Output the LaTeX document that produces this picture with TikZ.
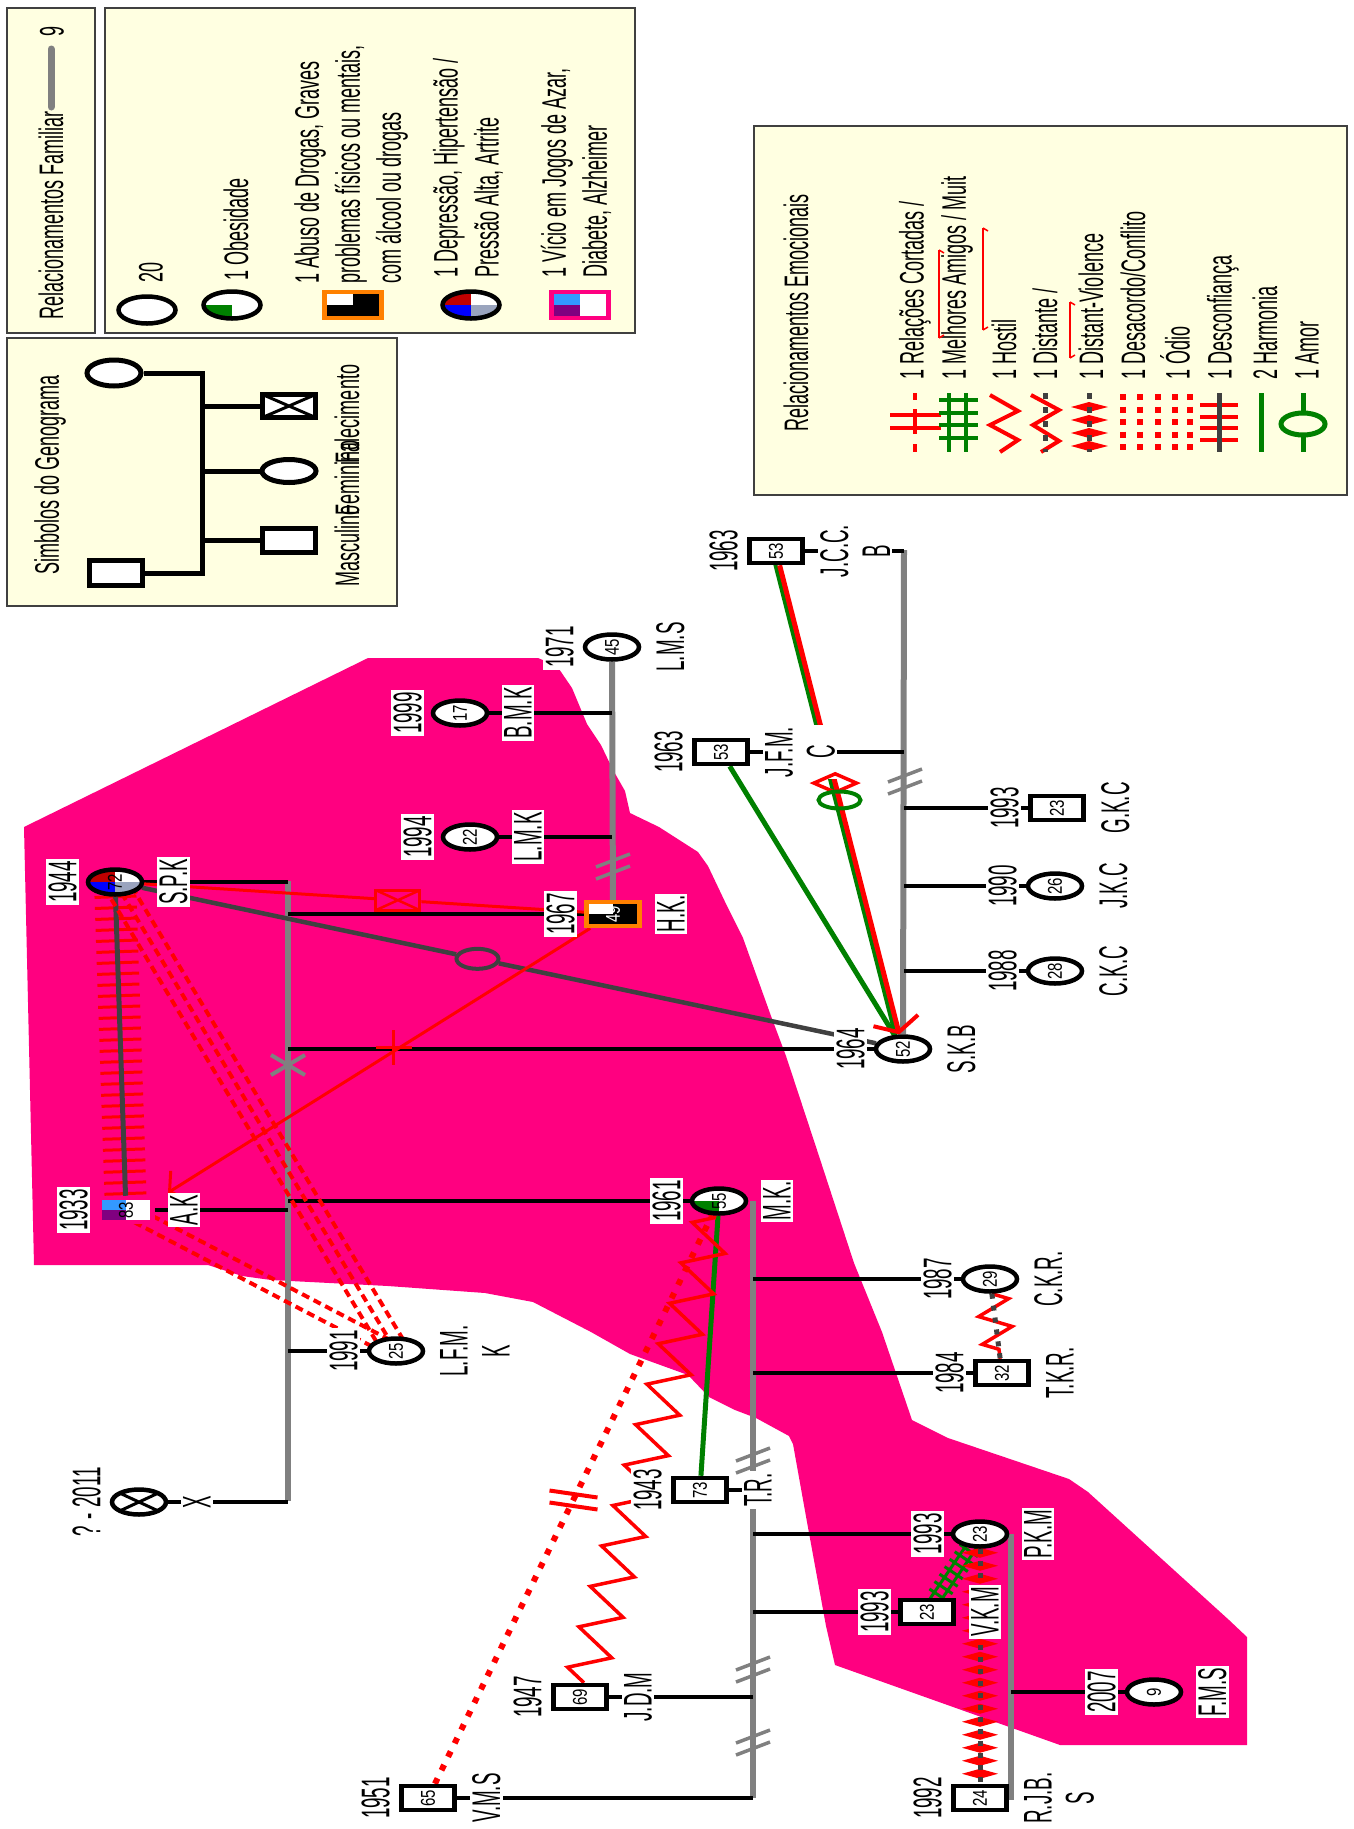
\documentclass[tikz,border=0pt]{standalone}
\usepackage{fontspec}
\setmainfont{Liberation Sans}[FakeStretch=0.47]
\newfontfamily\legfam{Liberation Sans}[FakeStretch=0.53]
\newfontfamily\agefam{Liberation Sans}[FakeStretch=0.75]
\usepackage{graphicx}
\usetikzlibrary{arrows.meta,calc,shapes.geometric,shapes.misc,decorations.pathmorphing,decorations.markings}
\definecolor{gpink}{HTML}{FF0080}
\definecolor{famgrey}{HTML}{808080}
\definecolor{relgrey}{HTML}{404040}
\definecolor{gred}{HTML}{FF0000}
\definecolor{ggreen}{HTML}{008000}
\definecolor{gorange}{HTML}{FF8000}
\definecolor{legfill}{HTML}{FFFFE1}
\definecolor{depred}{HTML}{C00000}
\definecolor{depblue}{HTML}{0000FF}
\definecolor{depgrey}{HTML}{9AA4BE}
\definecolor{gamblue}{HTML}{3399FF}
\definecolor{gampurple}{HTML}{800080}
\newcommand{\lblfont}{\fontsize{40}{42}\selectfont}
\newcommand{\legfont}{\legfam\fontsize{34}{41}\selectfont}
\newcommand{\agefont}{\agefam\fontsize{20}{20}\selectfont}
\pgfdeclarelayer{back}\pgfdeclarelayer{links}\pgfsetlayers{back,links,main}
\tikzset{
 fem/.style={ellipse,draw=black,line width=4.5pt,fill=white,minimum width=54pt,minimum height=25pt,inner sep=0pt},
 masc/.style={rectangle,draw=black,line width=4.5pt,fill=white,minimum width=53pt,minimum height=24pt,inner sep=0pt},
 quad/.style n args={4}{path picture={\fill[#1](path picture bounding box.center) rectangle (path picture bounding box.north west);\fill[#2](path picture bounding box.center) rectangle (path picture bounding box.north east);\fill[#3](path picture bounding box.center) rectangle (path picture bounding box.south west);\fill[#4](path picture bounding box.center) rectangle (path picture bounding box.south east);}},
 dead/.style={path picture={\draw[line width=3pt](path picture bounding box.north west)--(path picture bounding box.south east)(path picture bounding box.south west)--(path picture bounding box.north east);}},
 cutbox/.style={rectangle,draw=gred,line width=3pt,minimum width=44pt,minimum height=20pt,inner sep=0pt,path picture={\draw[gred,line width=2.5pt](path picture bounding box.north west)--(path picture bounding box.south east)(path picture bounding box.south west)--(path picture bounding box.north east);}},
 lbl/.style={rotate=90,fill=white,inner sep=2pt,font=\lblfont,align=center},
 legtxt/.style={rotate=90,inner sep=0pt,font=\legfont,align=left},
 legbox/.style={draw=black!75,line width=2pt,fill=legfill},
 legline/.style={draw=black,line width=5pt},
 fam/.style={draw=famgrey,line width=6pt},
 kid/.style={draw=black,line width=3.5pt},
 harmony/.style={draw=ggreen,line width=5pt},
 cutline/.style={draw=gred,line width=3pt},
 loveline/.style={draw=relgrey,line width=4.5pt},
 conflict/.style={draw=gred,line width=4pt,dash pattern=on 8pt off 5pt},
 cutoff/.style={draw=gred,line width=6pt,dash pattern=on 6pt off 9pt},
 hostile/.style={draw=gred,line width=3.5pt,decorate,decoration={zigzag,segment length=42pt,amplitude=20pt}},
 distrust/.style={draw=relgrey,line width=5pt,preaction={decorate,decoration={markings,mark=between positions 0 and 1 step 11pt with {\draw[gred,line width=3pt](0pt,-21pt)--(0pt,21pt);}}}},
 distant/.style={draw=relgrey,line width=5pt,dash pattern=on 5pt off 7pt,preaction={draw=gred,solid,line width=3.5pt,decorate,decoration={zigzag,segment length=28pt,amplitude=16pt}}},
 violence/.style={draw=relgrey,line width=5pt,dash pattern=on 5pt off 7pt,preaction={decorate,decoration={markings,mark=between positions 4pt and 1 step 13pt with {\fill[gred](-5pt,0pt)--(0pt,18pt)--(5pt,0pt)--(0pt,-18pt)--cycle;}}}},
 brkmark/.pic={\draw[famgrey,line width=3.5pt](-17,1)--(17,-12)(-17,13)--(17,0);},
 cutmark/.pic={\draw[gred,line width=4pt](-24,-9)--(24,-2)(-24,3)--(24,10);}
}
\begin{document}
\begin{tikzpicture}[x=1pt,y=-1pt]
\useasboundingbox (0,0) rectangle (1354,1829);
\begin{pgfonlayer}{back}
\fill[white](0,0) rectangle (1354,1829);
\fill[gpink](24,827)--(368,658)--(538,658)--(557,666)--(572,688)--(587,724)--(601,745)--(613,770)--(625,791)--(630,813)--(659,827)--(698,852)--(708,866)--(727,906)--(743,938)--(771,1016)--(786,1056)--(817,1150)--(854,1263)--(882,1332)--(912,1420)--(948,1438)--(1069,1479)--(1088,1492)--(1229,1620)--(1247,1637)--(1247,1745)--(1060,1745)--(835,1665)--(826,1626)--(807,1522)--(793,1444)--(789,1436)--(756,1418)--(735,1410)--(709,1397)--(688,1375)--(630,1354)--(591,1332)--(533,1302)--(485,1293)--(388,1286)--(271,1280)--(242,1276)--(208,1265)--(34,1265)--cycle;
\draw[legbox](7,8) rectangle (95,333);\draw[legbox](105,8) rectangle (635,333);\draw[legbox](7,338) rectangle (397,606);\draw[legbox](754,126) rectangle (1347,495);
\end{pgfonlayer}
\node[legtxt,anchor=west] (famtitle) at (51,320) {Relacionamentos Familiar};
\draw[famgrey,line width=7pt,line cap=round](51,107)--(51,49);
\node[legtxt] (famcount) at (52,31) {9};
\node[fem,minimum width=57pt,minimum height=27pt] (lg20) at (147,310) {};
\node[fem,minimum width=57pt,minimum height=27pt,quad={white}{white}{ggreen}{white}] (lgob) at (232,305) {};
\node[masc,minimum width=57pt,minimum height=26pt,draw=gorange,quad={white}{black}{black}{black}] (lgdrug) at (353,305) {};
\node[fem,minimum width=57pt,minimum height=27pt,quad={depred}{white}{depblue}{depgrey}] (lgdep) at (471,305) {};
\node[masc,minimum width=57pt,minimum height=26pt,draw=gpink,quad={gamblue}{white}{gampurple}{white}] (lggam) at (580,305) {};
\node[legtxt,anchor=west] (lg20-t) at (151,283) {20};
\node[legtxt,anchor=west] (lgob-t) at (236,281) {1 Obesidade};
\node[legtxt,anchor=west] (lgdrug-t) at (351,284) {1 Abuso de Drogas, Graves\\problemas físicos ou mentais,\\com álcool ou drogas};
\node[legtxt,anchor=west] (lgdep-t) at (468,278) {1 Depressão, Hipertensão /\\Pressão Alta, Artrite};
\node[legtxt,anchor=west] (lggam-t) at (576,278) {1 Vício em Jogos de Azar,\\Diabete, Alzheimer};
\node[legtxt,anchor=west] (symtitle) at (50,575) {Simbolos do Genograma};
\node[fem,line width=5pt,minimum width=54pt,minimum height=26pt] (lgf) at (114,373) {};
\node[masc,line width=5pt,minimum width=53pt,minimum height=25pt] (lgm) at (116,573) {};
\node[masc,line width=5pt,minimum width=53pt,minimum height=23pt,dead] (lgd) at (289,406) {};
\node[fem,line width=5pt,minimum width=54pt,minimum height=23pt] (lgff) at (289,471) {};
\node[masc,line width=5pt,minimum width=53pt,minimum height=24pt] (lgmm) at (289,540) {};
\node[legtxt] (lgmm-t) at (347,546) {Masculino};
\node[legtxt] (lgff-t) at (347,478) {Feminino};
\node[legtxt] (lgd-t) at (347,414) {Falecimento};
\node[legtxt,anchor=west] (emotitle) at (796,432) {Relacionamentos Emocionais};
\foreach \ex/\et in {915/{1 Relações Cortadas /},957/{1 Melhores Amigos / Muit},1004/1 Hostil,1045/{1 Distante /},1091/1 Distant-Violence,1133/{1 Desacordo/Conflito},1175/1 Ódio,1223/1 Desconfiança,1265/2 Harmonia,1307/1 Amor}
 \node[legtxt,anchor=west] (emo\ex) at (\ex,380) {\et};
\draw[gred,line width=1.5pt](939,250)--(939,338)(983,228)--(983,330)(1070,302)--(1070,358);
\foreach \xx/\ya/\yb in {939/250/338,983/228/330,1070/302/358}{\draw[gred,line width=1.5pt](\xx,\ya)--++(5,3)(\xx,\yb)--++(5,-3);}
\draw[gred,line width=4pt](915,393)--(915,400)(915,409)--(915,434)(915,444)--(915,452)(890,415)--(941,415)(890,428)--(941,428);
\draw[ggreen,line width=4pt](949,393)--(949,452)(966,393)--(966,452);
\foreach \yy in {400,413,425,438}\draw[ggreen,line width=3.5pt](939,\yy)--(978,\yy);
\draw[gred,line width=4pt](990,395)--(1018,411)--(990,425)--(1018,440)--(1000,452);
\draw[gred,line width=4pt](1031,395)--(1059,410)--(1033,425)--(1059,441)--(1041,452);
\draw[relgrey,line width=5pt,dash pattern=on 6pt off 8pt](1045,393)--(1045,452);
\foreach \yy in {407,420,433,446}\fill[gred](1071,\yy)--(1089,\yy-5)--(1108,\yy)--(1089,\yy+5)--cycle;
\draw[relgrey,line width=5pt,dash pattern=on 6pt off 8pt](1089,393)--(1089,452);
\foreach \xx in {1123,1140,1158,1175,1190}\draw[gred,line width=6pt,dash pattern=on 6pt off 6.5pt](\xx,394)--(\xx,452);
\foreach \yy in {405,417,428,440}\draw[gred,line width=4pt](1200,\yy)--(1238,\yy);
\draw[relgrey,line width=5pt](1219,393)--(1219,452);
\draw[ggreen,line width=5pt](1261,393)--(1261,452);
\draw[ggreen,line width=5pt](1303,393)--(1303,413)(1303,435)--(1303,452);
\draw[ggreen,line width=5pt](1303,424) ellipse [x radius=22, y radius=11];
\foreach \nm/\px/\py/\ag/\yr/\who in {lms/612/647/45/1971/L.M.S,bmk/460/713/17/1999/B.M.K,lmk/470/837/22/1994/L.M.K,lfmk/396/1351/25/1991/{L.F.M.\\K},skb/903/1049/52/1964/S.K.B,jkc/1055/886/26/1990/J.K.C,ckc/1055/971/28/1988/C.K.C,ckr/990/1279/29/1987/C.K.R.,pkm/980/1534/23/1993/P.K.M,fms/1154/1692/9/2007/F.M.S}{
 \node[fem] (\nm) at (\px,\py) {\rotatebox{90}{\agefont\ag}};
 \node[lbl,anchor=south] (\nm-y) at (\px-36,\py) {\yr};
 \node[lbl,anchor=north] (\nm-n) at (\px+42,\py) {\who};}
\foreach \nm/\px/\py/\ag/\yr/\who in {tr/700/1490/73/1943/T.R.,tkr/1002/1373/32/1984/T.K.R.,vkm/927/1612/23/1993/V.K.M,rjbs/980/1798/24/1992/{R.J.B.\\S},jdm/580/1697/69/1947/J.D.M,vms/428/1798/65/1951/V.M.S,jfm/721/752/53/1963/{J.F.M.\\C},jcc/776/551/53/1963/{J.C.C.\\B},gkc/1057/808/23/1993/G.K.C}{
 \node[masc] (\nm) at (\px,\py) {\rotatebox{90}{\agefont\ag}};
 \node[lbl,anchor=south] (\nm-y) at (\px-36,\py) {\yr};
 \node[lbl,anchor=north] (\nm-n) at (\px+42,\py) {\who};}
\node[fem,quad={depred}{white}{depblue}{depgrey}] (spk) at (115,882) {\rotatebox{90}{\agefont 72}};
\node[lbl,anchor=south] (spk-y) at (79,882) {1944};\node[lbl,anchor=north] (spk-n) at (157,882) {S.P.K};
\node[masc,draw=gorange,quad={white}{black}{black}{black}] (hk) at (613,914) {\rotatebox{90}{\agefont\color{white}49}};
\node[lbl,anchor=south] (hk-y) at (577,914) {1967};\node[lbl,anchor=north] (hk-n) at (655,914) {H.K.};
\node[masc,draw=gpink,quad={gamblue}{white}{gampurple}{white}] (ak) at (126,1210) {\rotatebox{90}{\agefont 83}};
\node[lbl,anchor=south] (ak-y) at (90,1210) {1933};\node[lbl,anchor=north] (ak-n) at (168,1210) {A.K};
\node[fem,quad={white}{white}{ggreen}{white}] (mk) at (719,1201) {\rotatebox{90}{\agefont 55}};
\node[lbl,anchor=south] (mk-y) at (683,1201) {1961};\node[lbl,anchor=north] (mk-n) at (761,1201) {M.K.};
\node[fem,dead] (xx) at (139,1502) {};
\node[lbl,anchor=south] (xx-y) at (103,1502) {? - 2011};\node[lbl,anchor=north] (xx-n) at (181,1502) {X};
\node[cutbox] (spkcut) at ($(spk)!0.568!(hk)$) {};
\node[ellipse,draw=relgrey,line width=4pt,minimum width=42pt,minimum height=20pt,inner sep=0pt] (spkring) at ($(spk)!0.46!(skb)$) {};
\node[cross out,draw=gred,line width=3pt,minimum size=22pt,inner sep=0pt,rotate=45] (hkcross) at ($(hk)!0.45!(ak)$) {};
\node[cross out,draw=famgrey,line width=4pt,minimum width=30pt,minimum height=16pt,inner sep=0pt] (barx) at (288,1065) {};
\node[diamond,draw=gred,line width=3.5pt,minimum width=44pt,minimum height=20pt,inner sep=0pt] (jccdia) at ($(jcc)!0.466!(skb)$) {};
\node[ellipse,draw=ggreen,line width=4pt,minimum width=42pt,minimum height=17pt,inner sep=0pt] (jccring) at ($(jcc)!0.5!(skb)$) {};
\begin{pgfonlayer}{links}
\coordinate (spkbar) at (288,881);\coordinate (xbar) at (288,1501);\coordinate (mktop) at (753,1201);\coordinate (mkend) at (753,1798);
\coordinate (skbtop) at (904,550);\coordinate (pkmtop) at (1011,1534);\coordinate (pkmend) at (1011,1800);\coordinate (lgbar) at (202,373);
\draw[legline](lgf)--(lgf-|lgbar)--(lgm-|lgbar)--(lgm);
\foreach \k in {lgd,lgff,lgmm}\draw[legline](\k)--(\k-|lgbar);
\draw[fam](spkbar)--(xbar);\draw[fam](mktop)--(mkend);\draw[fam](skbtop)--(skb);\draw[fam](pkmtop)--(pkmend);\draw[fam](lms)--(hk);
\foreach \k in {spk,hk,ak,mk,skb,lfmk,xx}\draw[kid](\k)--(\k-|spkbar);
\foreach \k in {lmk,bmk}\draw[kid](\k)--(\k-|lms);
\foreach \k in {ckr,tkr,pkm,vkm,jdm,vms,tr}\draw[kid](\k)--(\k-|mktop);
\foreach \k in {jcc,jfm,gkc,jkc,ckc}\draw[kid](\k)--(\k-|skbtop);
\draw[kid](fms)--(fms-|pkmtop);
\draw[cutline](spk)--(spkcut)--(hk);
\draw[loveline](spk)--(spkring)--(skb);
\draw[cutline,-{Straight Barb[length=12pt,width=34pt,line width=3pt]}](hk)--(ak-n.north east);
\draw[distrust](spk)--(ak);
\foreach \s in {-12pt,0pt,12pt}\draw[conflict]($(spk)!\s!90:(lfmk)$)--($(lfmk)!\s!-90:(spk)$);
\foreach \s in {-7pt,7pt}\draw[conflict]($(ak)!\s!90:(lfmk)$)--($(lfmk)!\s!-90:(ak)$);
\draw[harmony](mk)--(tr);
\draw[hostile](jdm)--(mk);
\draw[cutoff](vms)--(mk);
\draw[harmony](jfm)--(skb);
\draw[harmony,line width=4pt]($(jcc)!4pt!-90:(skb)$)--($(skb)!4pt!90:(jcc)$);
\draw[gred,line width=5pt,-{Straight Barb[length=12pt,width=46pt,line width=4pt]}](jcc)--(skb);
\foreach \s in {-5pt,5pt}\draw[ggreen,line width=3pt]($(pkm)!\s!90:(vkm)$)--($(vkm)!\s!-90:(pkm)$);
\path[postaction={decorate,decoration={markings,mark=between positions 3pt and 1 step 9pt with {\draw[ggreen,line width=3pt](0pt,-11pt)--(0pt,11pt);}}}](pkm)--(vkm);
\draw[violence](pkm)--(rjbs);
\draw[distant](ckr)--(tkr);
\end{pgfonlayer}
\pic at (613,866) {brkmark};\pic at (905,781) {brkmark};\pic at (753,1460) {brkmark};\pic at (753,1669) {brkmark};\pic at (753,1742) {brkmark};
\pic at ($(vms)!0.5!(mk)$) {cutmark};
\end{tikzpicture}
\end{document}
